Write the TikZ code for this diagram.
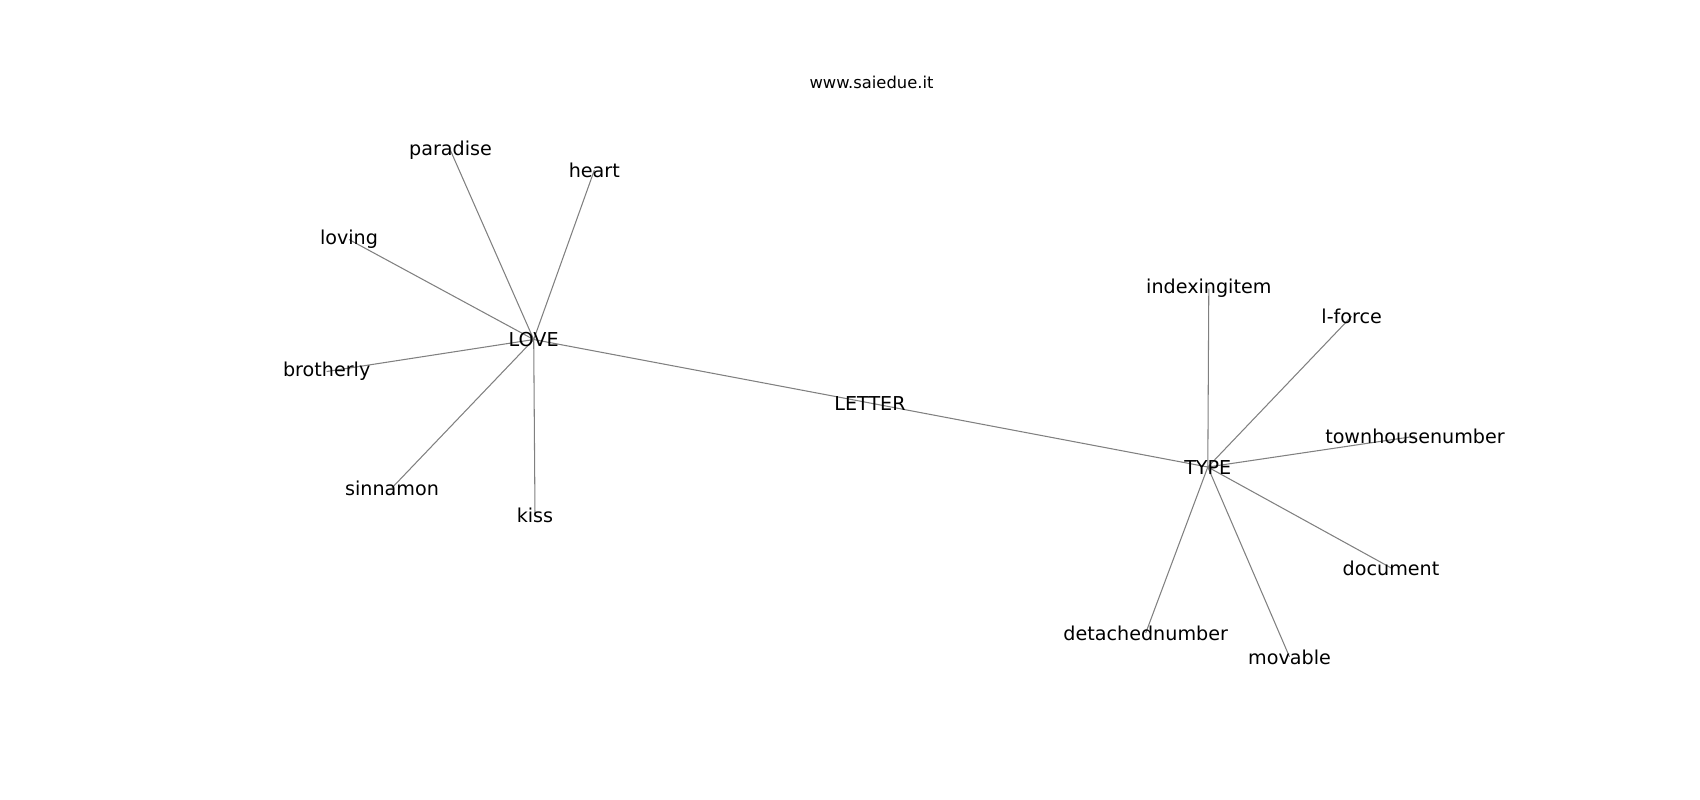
\documentclass[tikz,border=0pt]{standalone}
\usepackage{fontspec}
\setmainfont{DejaVu Sans}
\usepackage{tikz}
\usetikzlibrary{backgrounds}

\begin{document}
\begin{tikzpicture}[x=0.02cm, y=-0.02cm,
		every node/.style={anchor=base, inner sep=0pt, font=\fontsize{10.9}{13}\selectfont},
		edge/.style={draw=gray, line width=0.6pt}]
				\useasboundingbox (0,0) rectangle (1700,800);

				\node[font=\fontsize{9.3}{11}\selectfont] (title) at (871.5,88.8) {www.saiedue.it};

				\node (love) at (533.7,346.5) {LOVE};
				\node (letter) at (870,410) {LETTER};
				\node (type) at (1207.8,474) {TYPE};

				\node (paradise) at (450.5,155.8) {paradise};
				\node (heart) at (594.3,177.4) {heart};
				\node (loving) at (349,244.8) {loving};
				\node (brotherly) at (326.7,376.8) {brotherly};
				\node (sinnamon) at (392,495) {sinnamon};
				\node (kiss) at (535,522.4) {kiss};

				\node (indexingitem) at (1208.8,294) {indexingitem};
				\node (lforce) at (1351.7,323.4) {l-force};
				\node (townhouse) at (1415,443.4) {townhousenumber};
				\node (document) at (1391,575) {document};
				\node (detached) at (1145.7,640.2) {detachednumber};
				\node (movable) at (1289.5,664) {movable};

				\begin{scope}[on background layer]
				\foreach \a/\b in {love/letter, letter/type,
						love/paradise, love/heart, love/loving, love/brotherly, love/sinnamon, love/kiss,
						type/indexingitem, type/lforce, type/townhouse, type/document, type/detached, type/movable}
					\path[edge] (\a.center) -- (\b.center);
				\end{scope}
			\end{tikzpicture}
\end{document}
